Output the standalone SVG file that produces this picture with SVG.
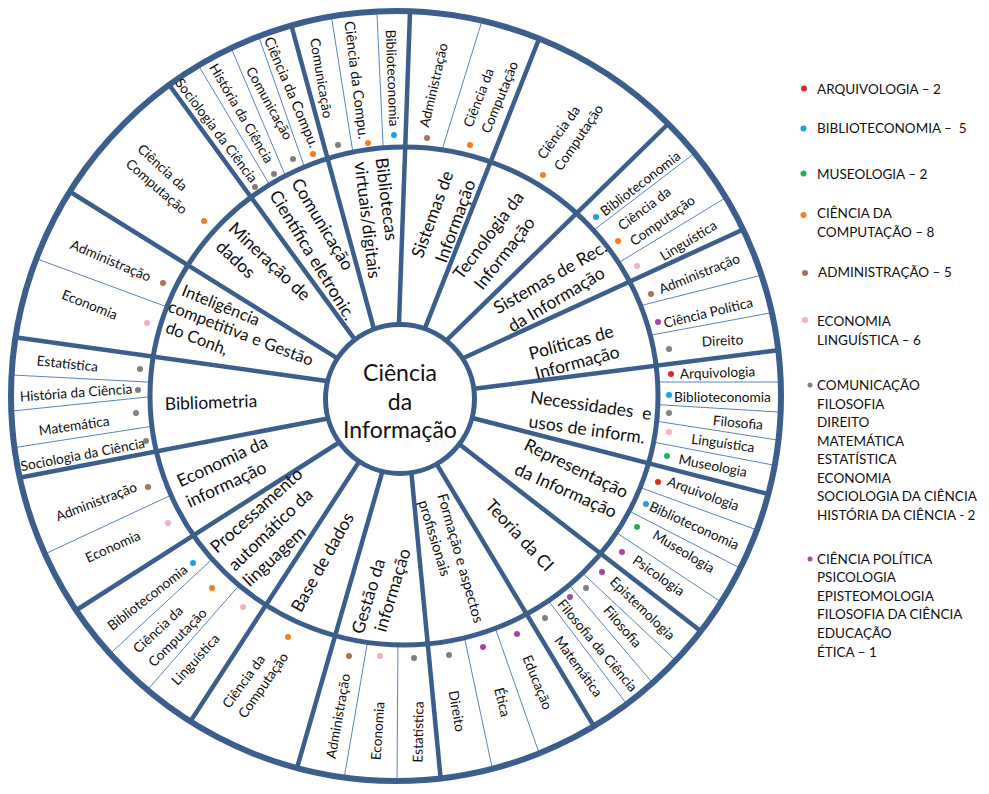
<svg xmlns="http://www.w3.org/2000/svg" width="989" height="794" viewBox="0 0 989 794">
<style>
.t{font-family:Lato,"Open Sans",sans-serif;fill:#111;text-anchor:middle;dominant-baseline:central}
.m{font-size:17.5px}
.m2{font-size:16.5px}
.s{font-size:13.7px}
.f{font-size:14.5px}
.c{font-size:23px}
.lg{font-family:Lato,"Open Sans",sans-serif;font-size:13.5px;fill:#111;dominant-baseline:central}
.thick{stroke:#3B5E8C;stroke-width:4.5;fill:none}
.thin{stroke:#5A84BE;stroke-width:1;fill:none}
.ring{stroke:#3B5E8C;fill:none}
.rd{fill:#E3262B}.bl{fill:#1E9FE3}.gn{fill:#22B14C}.or{fill:#F47D20}.br{fill:#A87454}.pk{fill:#F4AFC9}.gy{fill:#808080}.pu{fill:#A347A4}
</style>
<defs>
<clipPath id="annulus">
<path clip-rule="evenodd" d="M11,396 a385,385 0 1,0 770,0 a385,385 0 1,0 -770,0 Z M150,396 a254,249 0 1,0 508,0 a254,249 0 1,0 -508,0 Z"/>
</clipPath>
</defs>
<rect width="989" height="794" fill="#fff"/>
<g id="connectors">
<g clip-path="url(#annulus)" class="thin">
<line x1="353.6" y1="156.9" x2="330.4" y2="10.1"/>
<line x1="383.5" y1="155" x2="376.5" y2="3"/>
<line x1="273.1" y1="190.6" x2="194.9" y2="59.4"/>
<line x1="286.9" y1="179.2" x2="228.1" y2="40.8"/>
<line x1="306.3" y1="172.4" x2="256.7" y2="30.6"/>
<line x1="171.4" y1="308.5" x2="30.6" y2="256.5"/>
<line x1="157" y1="382.5" x2="2" y2="374.5"/>
<line x1="157" y1="396" x2="3" y2="412"/>
<line x1="156.9" y1="425.5" x2="2.1" y2="449.5"/>
<line x1="174" y1="493.8" x2="38" y2="557.2"/>
<line x1="215.3" y1="556.2" x2="104.7" y2="658.8"/>
<line x1="241.6" y1="582.5" x2="143.4" y2="694.5"/>
<line x1="368.7" y1="635.2" x2="343.3" y2="782.9"/>
<line x1="398" y1="633" x2="397" y2="788"/>
<line x1="462.9" y1="630.2" x2="494.1" y2="776.8"/>
<line x1="493.7" y1="623.6" x2="541.3" y2="759.4"/>
<line x1="545.6" y1="597" x2="631" y2="709.7"/>
<line x1="568.5" y1="584" x2="656.5" y2="687.6"/>
<line x1="582.7" y1="573.2" x2="680.3" y2="664.8"/>
<line x1="637.6" y1="486.6" x2="766.4" y2="533.4"/>
<line x1="624.1" y1="508.4" x2="746.9" y2="571.6"/>
<line x1="611.7" y1="529.5" x2="726.3" y2="605.5"/>
<line x1="653" y1="382" x2="793" y2="382"/>
<line x1="654" y1="404.4" x2="788" y2="412.6"/>
<line x1="652.1" y1="420.5" x2="786.9" y2="441.5"/>
<line x1="648.2" y1="441.1" x2="782.8" y2="466.9"/>
<line x1="637.3" y1="306.5" x2="767.7" y2="273.6"/>
<line x1="647.2" y1="335.8" x2="779.8" y2="311.2"/>
<line x1="590" y1="233" x2="700" y2="149"/>
<line x1="614.5" y1="265.2" x2="730.5" y2="194.8"/>
<line x1="440" y1="156.5" x2="483" y2="17.5"/>
</g>
<g class="thick">
<line x1="398.6" y1="334" x2="410" y2="12"/>
<line x1="422.6" y1="334.2" x2="539" y2="39"/>
<line x1="443.4" y1="343.4" x2="667" y2="125"/>
<line x1="459.1" y1="360" x2="742" y2="230"/>
<line x1="468.1" y1="389.5" x2="780" y2="350"/>
<line x1="468.4" y1="417" x2="768" y2="494"/>
<line x1="457.5" y1="442.7" x2="700" y2="630.5"/>
<line x1="435.8" y1="462.7" x2="594" y2="726.4"/>
<line x1="410.9" y1="468" x2="440.6" y2="778"/>
<line x1="383.3" y1="468.5" x2="297" y2="768"/>
<line x1="361.5" y1="458" x2="191" y2="720.4"/>
<line x1="342.1" y1="440.5" x2="76.6" y2="610"/>
<line x1="331.8" y1="417.7" x2="18" y2="478"/>
<line x1="331.9" y1="381.7" x2="13" y2="337"/>
<line x1="342.2" y1="361.3" x2="72" y2="193"/>
<line x1="357.1" y1="342.7" x2="170" y2="86"/>
<line x1="375.2" y1="333.6" x2="291.5" y2="26"/>
</g>
<circle class="ring" cx="396" cy="396" r="385" stroke-width="6"/>
<ellipse class="ring" cx="404" cy="396" rx="254" ry="249" stroke-width="5"/>
</g>
<g id="center">
<circle cx="400" cy="399" r="74.5" fill="#fff" stroke="#3B5E8C" stroke-width="5"/>
<text class="t c" x="400" y="372">Ciência</text>
<text class="t c" x="400" y="401">da</text>
<text class="t c" x="400" y="429">Informação</text>
</g>
<g id="bibliotecas-virtuais">
<text class="t m" transform="translate(387 199) rotate(83)">Bibliotecas</text>
<text class="t m" transform="translate(368 220) rotate(83)">virtuais/digitais</text>
<text class="t s" transform="translate(322 78) rotate(80.5)">Comunicação</text>
<text class="t f" transform="translate(357 80) rotate(83)">Ciência da Compu.</text>
<text class="t s" transform="translate(393 78) rotate(88)">Biblioteconomia</text>
<circle class="gy" cx="338" cy="145" r="3"/><circle class="or" cx="368" cy="143" r="3"/><circle class="bl" cx="394" cy="135" r="3"/>
</g>
<g id="comunicacao-cientifica">
<text class="t m" transform="translate(323 224) rotate(59)">Comunicação</text>
<text class="t m" transform="translate(313 255) rotate(58.6)">Científica eletronic.</text>
<text class="t s" transform="translate(217 130) rotate(53)">Sociologia da Ciência</text>
<text class="t s" transform="translate(242 113) rotate(59.6)">História da Ciência</text>
<text class="t s" transform="translate(270 103) rotate(61)">Comunicação</text>
<text class="t f" transform="translate(292 92) rotate(67)">Ciência da Compu.</text>
<circle class="gy" cx="255" cy="187" r="3"/><circle class="gy" cx="274" cy="174" r="3"/><circle class="gy" cx="293" cy="159" r="3"/><circle class="or" cx="313" cy="154" r="3"/>
</g>
<g id="mineracao">
<text class="t m" transform="translate(270 261) rotate(43.5)">Mineração de</text>
<text class="t m" transform="translate(236 259) rotate(43)">dados</text>
<text class="t s" transform="translate(163 167) rotate(42.5)">Ciência da</text>
<text class="t s" transform="translate(157 186) rotate(41)">Computação</text>
<circle class="or" cx="204" cy="221" r="3"/>
</g>
<g id="inteligencia">
<text class="t m2" transform="translate(221 305) rotate(22)">Inteligência</text>
<text class="t m2" transform="translate(241 333) rotate(21)">competitiva e Gestão</text>
<text class="t m2" transform="translate(197 338) rotate(21)">do Conh,</text>
<text class="t s" transform="translate(111 260) rotate(23)">Administração</text>
<text class="t s" transform="translate(90 304) rotate(22)">Economia</text>
<circle class="br" cx="163" cy="283" r="3"/><circle class="pk" cx="147" cy="323" r="3"/>
</g>
<g id="bibliometria">
<text class="t m" transform="translate(211 402) rotate(-2)">Bibliometria</text>
<text class="t s" transform="translate(67.5 363) rotate(6)">Estatística</text>
<text class="t s" transform="translate(76 392) rotate(-4)">História da Ciência</text>
<text class="t s" transform="translate(74 425) rotate(-8)">Matemática</text>
<text class="t s" transform="translate(82.5 454) rotate(-10.8)">Sociologia da Ciência</text>
<circle class="gy" cx="140" cy="369" r="3"/><circle class="gy" cx="138" cy="390" r="3"/><circle class="gy" cx="136" cy="413" r="3"/><circle class="gy" cx="146" cy="441" r="3"/>
</g>
<g id="economia-informacao">
<text class="t m" transform="translate(222 461) rotate(-25)">Economia da</text>
<text class="t m" transform="translate(226 484) rotate(-25)">informação</text>
<text class="t s" transform="translate(96 501) rotate(-21)">Administração</text>
<text class="t s" transform="translate(112.5 546) rotate(-24)">Economia</text>
<circle class="br" cx="148" cy="487" r="3"/><circle class="pk" cx="168" cy="523" r="3"/>
</g>
<g id="processamento">
<text class="t m" transform="translate(256 510) rotate(-42)">Processamento</text>
<text class="t m" transform="translate(270 529) rotate(-44)">automático da</text>
<text class="t m" transform="translate(274 556) rotate(-43)">linguagem</text>
<text class="t s" transform="translate(147 597) rotate(-38)">Biblioteconomia</text>
<text class="t s" transform="translate(157.5 629) rotate(-43)">Ciência da</text>
<text class="t s" transform="translate(177 637) rotate(-45)">Computação</text>
<text class="t s" transform="translate(195 659) rotate(-47.5)">Linguística</text>
<circle class="bl" cx="193" cy="563" r="3"/><circle class="or" cx="212" cy="588" r="3"/><circle class="pk" cx="243" cy="607" r="3"/>
</g>
<g id="base-de-dados">
<text class="t m" transform="translate(322 562) rotate(-61)">Base de dados</text>
<text class="t s" transform="translate(243 681) rotate(-54)">Ciência da</text>
<text class="t s" transform="translate(262.5 685) rotate(-55)">Computação</text>
<circle class="or" cx="288" cy="637" r="3"/>
</g>
<g id="gestao-informacao">
<text class="t m" transform="translate(368 596) rotate(-73)">Gestão da</text>
<text class="t m" transform="translate(392 590) rotate(-73)">informação</text>
<text class="t s" transform="translate(337.5 716) rotate(-80)">Administração</text>
<text class="t s" transform="translate(377 731) rotate(-86)">Economia</text>
<text class="t s" transform="translate(417.5 732) rotate(-89)">Estatística</text>
<circle class="br" cx="349" cy="656" r="3"/><circle class="pk" cx="380" cy="656" r="3"/><circle class="gy" cx="414" cy="658" r="3"/>
</g>
<g id="formacao">
<text class="t f" transform="translate(461 558) rotate(74)">Formação e aspectos</text>
<text class="t f" transform="translate(435 538) rotate(73)">profissionais</text>
<text class="t s" transform="translate(457.5 711) rotate(80)">Direito</text>
<text class="t s" transform="translate(503 702) rotate(76)">Ética</text>
<text class="t s" transform="translate(538 682) rotate(68)">Educação</text>
<circle class="gy" cx="449" cy="655" r="3"/><circle class="pu" cx="483" cy="647" r="3"/><circle class="pu" cx="517" cy="634" r="3"/>
</g>
<g id="teoria-ci">
<text class="t m" transform="translate(520 535) rotate(47)">Teoria da CI</text>
<text class="t s" transform="translate(579 666) rotate(54)">Matemática</text>
<text class="t s" transform="translate(598 645) rotate(50)">Filosofia da Ciência</text>
<text class="t s" transform="translate(623 626) rotate(49)">Filosofia</text>
<text class="t s" transform="translate(643 608) rotate(44)">Epistemologia</text>
<circle class="gy" cx="545" cy="618" r="3"/><circle class="pu" cx="570" cy="597" r="3"/><circle class="gy" cx="586" cy="588" r="3"/><circle class="pu" cx="602" cy="572" r="3"/>
</g>
<g id="representacao">
<text class="t m" transform="translate(576.5 468) rotate(26)">Representação</text>
<text class="t m" transform="translate(566 490) rotate(24)">da Informação</text>
<text class="t s" transform="translate(703.5 493) rotate(20)">Arquivologia</text>
<text class="t s" transform="translate(694.5 525) rotate(24.5)">Biblioteconomia</text>
<text class="t s" transform="translate(684 551) rotate(31)">Museologia</text>
<text class="t s" transform="translate(659 575) rotate(35)">Psicologia</text>
<circle class="rd" cx="658" cy="482" r="3"/><circle class="bl" cx="646" cy="504" r="3"/><circle class="gn" cx="637" cy="527" r="3"/><circle class="pu" cx="622" cy="552" r="3"/>
</g>
<g id="necessidades">
<text class="t m" transform="translate(591 405) rotate(8)">Necessidades&#160; e</text>
<text class="t m" transform="translate(587 429) rotate(8)">usos de inform.</text>
<text class="t s" transform="translate(717.5 372) rotate(-2)">Arquivologia</text>
<text class="t s" transform="translate(722.5 396) rotate(0)">Biblioteconomia</text>
<text class="t s" transform="translate(738 422) rotate(5)">Filosofia</text>
<text class="t s" transform="translate(723 442.5) rotate(8)">Linguística</text>
<text class="t s" transform="translate(713 465) rotate(11)">Museologia</text>
<circle class="rd" cx="671" cy="374" r="3"/><circle class="bl" cx="669" cy="395" r="3"/><circle class="gy" cx="669" cy="413" r="3"/><circle class="pk" cx="669" cy="432" r="3"/><circle class="gn" cx="667" cy="456" r="3"/>
</g>
<g id="politicas">
<text class="t m" transform="translate(571 342) rotate(-15.5)">Políticas de</text>
<text class="t m" transform="translate(577 362) rotate(-15)">Informação</text>
<text class="t s" transform="translate(699 273) rotate(-22)">Administração</text>
<text class="t s" transform="translate(708 312) rotate(-13.5)">Ciência Política</text>
<text class="t s" transform="translate(722.5 340) rotate(-3)">Direito</text>
<circle class="br" cx="651" cy="294" r="3"/><circle class="pu" cx="658" cy="322" r="3"/><circle class="gy" cx="669" cy="349" r="3"/>
</g>
<g id="sistemas-rec">
<text class="t m" transform="translate(550 277) rotate(-30)">Sistemas de Rec.</text>
<text class="t m" transform="translate(556 299) rotate(-31)">da Informação</text>
<text class="t s" transform="translate(640 183) rotate(-37.5)">Biblioteconomia</text>
<text class="t s" transform="translate(644 208) rotate(-37)">Ciência da</text>
<text class="t s" transform="translate(662 220) rotate(-35.5)">Computação</text>
<text class="t s" transform="translate(688 240) rotate(-31.5)">Linguística</text>
<circle class="bl" cx="596" cy="217" r="3"/><circle class="or" cx="618" cy="241" r="3"/><circle class="pk" cx="637" cy="266" r="3"/>
</g>
<g id="tecnologia">
<text class="t m" transform="translate(488 235) rotate(-53)">Tecnologia da</text>
<text class="t m" transform="translate(504 253) rotate(-52)">Informação</text>
<text class="t s" transform="translate(558 132) rotate(-54)">Ciência da</text>
<text class="t s" transform="translate(578 137) rotate(-56)">Computação</text>
<circle class="or" cx="543" cy="175" r="3"/>
</g>
<g id="sistemas-informacao">
<text class="t m" transform="translate(432 214) rotate(-70)">Sistemas de</text>
<text class="t m" transform="translate(455 221) rotate(-70)">Informação</text>
<text class="t s" transform="translate(433 85) rotate(-77)">Administração</text>
<text class="t s" transform="translate(478 97.5) rotate(-69)">Ciência da</text>
<text class="t s" transform="translate(499 97) rotate(-68)">Computação</text>
<circle class="br" cx="427" cy="138" r="3"/><circle class="or" cx="470" cy="145" r="3"/>
</g>
<g id="legend">
<circle class="rd" cx="804" cy="88.5" r="3"/><text class="lg" x="817" y="89">ARQUIVOLOGIA – 2</text>
<circle class="bl" cx="803.5" cy="128.5" r="3"/><text class="lg" x="817" y="128" xml:space="preserve">BIBLIOTECONOMIA –  5</text>
<circle class="gn" cx="803.5" cy="173.5" r="3"/><text class="lg" x="817" y="174">MUSEOLOGIA – 2</text>
<circle class="or" cx="803.5" cy="215" r="3"/><text class="lg" x="817" y="213">CIÊNCIA DA</text><text class="lg" x="817" y="232">COMPUTAÇÃO – 8</text>
<circle class="br" cx="805" cy="273" r="3"/><text class="lg" x="818" y="272">ADMINISTRAÇÃO – 5</text>
<circle class="pk" cx="805" cy="320" r="3"/><text class="lg" x="817" y="321">ECONOMIA</text><text class="lg" x="817" y="340">LINGUÍSTICA – 6</text>
<circle class="gy" cx="810" cy="385" r="2.5"/>
<text class="lg" x="817" y="385">COMUNICAÇÃO</text>
<text class="lg" x="817" y="403.5">FILOSOFIA</text>
<text class="lg" x="817" y="422">DIREITO</text>
<text class="lg" x="817" y="440.5">MATEMÁTICA</text>
<text class="lg" x="817" y="459">ESTATÍSTICA</text>
<text class="lg" x="817" y="477.5">ECONOMIA</text>
<text class="lg" x="817" y="496">SOCIOLOGIA DA CIÊNCIA</text>
<text class="lg" x="817" y="514.5">HISTÓRIA DA CIÊNCIA - 2</text>
<circle class="pu" cx="810" cy="559" r="2.5"/>
<text class="lg" x="817" y="558.5">CIÊNCIA POLÍTICA</text>
<text class="lg" x="817" y="577">PSICOLOGIA</text>
<text class="lg" x="817" y="595.5">EPISTEOMOLOGIA</text>
<text class="lg" x="817" y="614">FILOSOFIA DA CIÊNCIA</text>
<text class="lg" x="817" y="633">EDUCAÇÃO</text>
<text class="lg" x="817" y="652">ÉTICA – 1</text>
</g>
</svg>
